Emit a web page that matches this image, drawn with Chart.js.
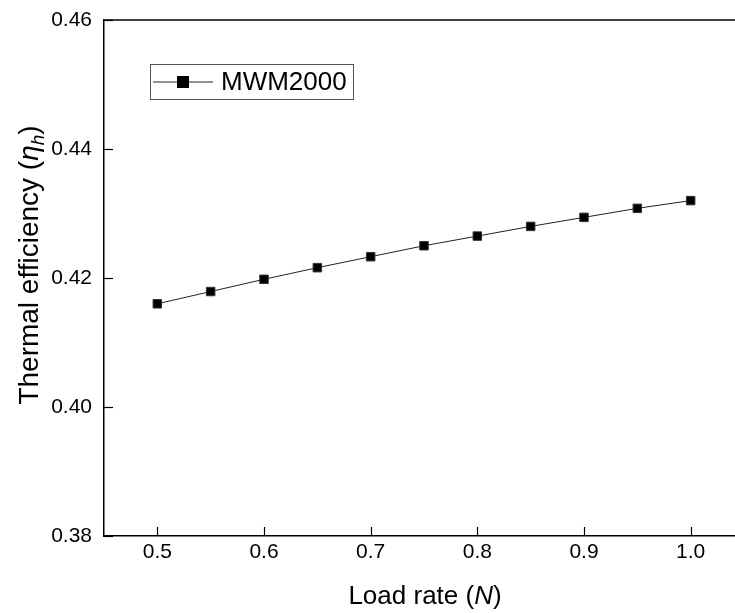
<!DOCTYPE html>
<html>
<head>
<meta charset="utf-8">
<script src="https://cdn.jsdelivr.net/npm/chart.js@4/dist/chart.umd.min.js"></script>
<style>
  html, body { margin: 0; padding: 0; background: #fff; overflow: hidden; }
  #wrap { width: 760px; height: 613px; }
</style>
</head>
<body>
<div id="wrap"><canvas id="effChart" width="760" height="613"></canvas></div>
<script>
/* Thermal efficiency vs load rate */
const loadRates = [0.5, 0.55, 0.6, 0.65, 0.7, 0.75, 0.8, 0.85, 0.9, 0.95, 1.0];
const efficiency = [0.4160, 0.4179, 0.4198, 0.4216, 0.4233, 0.4250, 0.4265, 0.4280, 0.4294, 0.4308, 0.4320];
const xTicks = [0.5, 0.6, 0.7, 0.8, 0.9, 1.0];
const yTicks = [0.38, 0.40, 0.42, 0.44, 0.46];
const seriesName = 'MWM2000';

const FONT = "'Liberation Sans', Arial, sans-serif";

// runs of [text, style, size, baseline shift]
const xTitleRuns = [['Load rate (', '', 26, 0], ['N', 'italic ', 26, 0], [')', '', 26, 0]];
const yTitleRuns = [['Thermal efficiency (', '', 28, 0], ['η', 'italic ', 28, 0], ['h', 'italic ', 19, 6], [')', '', 28, 0]];

function runsWidth(ctx, runs) {
    return runs.reduce((w, r) => { ctx.font = r[1] + r[2] + 'px ' + FONT; return w + ctx.measureText(r[0]).width; }, 0);
}
function drawRuns(ctx, runs, x, y) {
    runs.forEach(r => {
        ctx.font = r[1] + r[2] + 'px ' + FONT;
        ctx.fillText(r[0], x, y + r[3]);
        x += ctx.measureText(r[0]).width;
    });
}

// inward tick marks, top frame line, axis titles
const frameTicks = {
    id: 'frameTicks',
    afterDraw(chart) {
        const { ctx, chartArea: a, scales } = chart;
        ctx.save();
        ctx.strokeStyle = '#000';
        ctx.lineWidth = 1.5;
        ctx.beginPath();
        ctx.moveTo(a.left, a.top);
        ctx.lineTo(a.right + 20, a.top);
        ctx.stroke();
        ctx.lineWidth = 1.2;
        xTicks.forEach(v => {
            const x = Math.round(scales.x.getPixelForValue(v)) + 0.5;
            ctx.beginPath(); ctx.moveTo(x, a.bottom); ctx.lineTo(x, a.bottom - 9); ctx.stroke();
        });
        yTicks.forEach(v => {
            const y = Math.round(scales.y.getPixelForValue(v)) + 0.5;
            ctx.beginPath(); ctx.moveTo(a.left, y); ctx.lineTo(a.left + 9, y); ctx.stroke();
        });

        ctx.fillStyle = '#000';
        ctx.textBaseline = 'alphabetic';
        ctx.textAlign = 'left';
        const xw = runsWidth(ctx, xTitleRuns);
        drawRuns(ctx, xTitleRuns, 425 - xw / 2, 604);

        const yw = runsWidth(ctx, yTitleRuns);
        ctx.translate(38, 265);
        ctx.rotate(-Math.PI / 2);
        drawRuns(ctx, yTitleRuns, -yw / 2, 0);
        ctx.restore();
    }
};

// framed legend box, top left
const boxLegend = {
    id: 'boxLegend',
    afterDraw(chart) {
        const { ctx } = chart;
        ctx.save();
        ctx.strokeStyle = '#555';
        ctx.lineWidth = 1;
        ctx.strokeRect(150.5, 64.5, 203, 35);
        ctx.strokeStyle = '#222';
        ctx.beginPath(); ctx.moveTo(153, 82); ctx.lineTo(213, 82); ctx.stroke();
        ctx.fillStyle = '#000';
        ctx.fillRect(177, 76, 12, 12);
        ctx.font = '26px ' + FONT;
        ctx.textBaseline = 'middle';
        ctx.fillText(seriesName, 221, 83);
        ctx.restore();
    }
};

new Chart(document.getElementById('effChart'), {
    type: 'line',
    data: {
        datasets: [{
            label: seriesName,
            data: loadRates.map((x, i) => ({ x: x, y: efficiency[i] })),
            borderColor: '#222',
            borderWidth: 1,
            pointStyle: 'rect',
            pointRadius: 6,
            pointBackgroundColor: '#000',
            pointBorderColor: '#333',
            pointBorderWidth: 1,
            tension: 0,
            fill: false
        }]
    },
    options: {
        responsive: false,
        animation: false,
        layout: { padding: { top: 20, right: 16, left: 0, bottom: 0 } },
        plugins: { legend: { display: false }, tooltip: { enabled: false } },
        scales: {
            x: {
                type: 'linear',
                min: 0.45, max: 1.05,
                afterBuildTicks: s => { s.ticks = xTicks.map(v => ({ value: v })); },
                afterFit: s => { s.height = 77; s.paddingLeft = 0; s.paddingRight = 0; },
                grid: { display: false, drawTicks: false },
                border: { display: true, color: '#000', width: 1.5 },
                ticks: {
                    color: '#000', padding: 4,
                    font: { family: FONT, size: 21 },
                    callback: v => v.toFixed(1)
                },
                title: { display: false }
            },
            y: {
                min: 0.38, max: 0.46,
                afterBuildTicks: s => { s.ticks = yTicks.map(v => ({ value: v })); },
                afterFit: s => { s.width = 104; s.paddingTop = 0; s.paddingBottom = 0; },
                grid: { display: false, drawTicks: false },
                border: { display: true, color: '#000', width: 1.5 },
                ticks: {
                    color: '#000', padding: 12,
                    font: { family: FONT, size: 21 },
                    callback: v => v.toFixed(2)
                },
                title: { display: false }
            }
        }
    },
    plugins: [frameTicks, boxLegend]
});
</script>
</body>
</html>
